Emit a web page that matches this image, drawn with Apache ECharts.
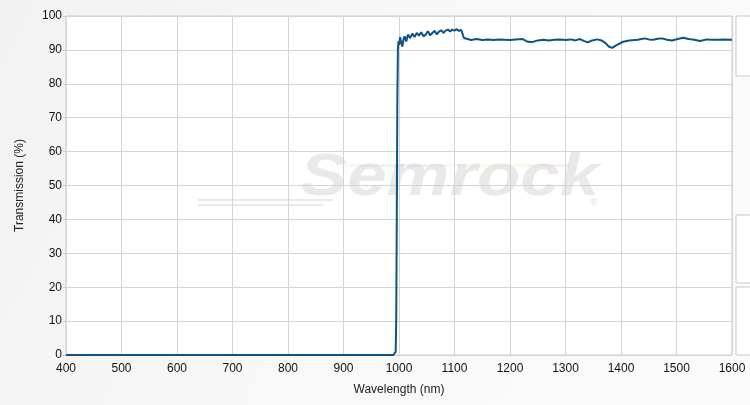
<!DOCTYPE html>
<html>
<head>
<meta charset="utf-8">
<script src="https://cdn.jsdelivr.net/npm/echarts@6/dist/echarts.min.js"></script>
<style>
html,body{margin:0;padding:0;background:#fff;}
#chart{width:750px;height:405px;}
</style>
</head>
<body>
<div id="chart"></div>
<script>
// Wavelength (nm)
var wavelengths = [400, 600, 800, 990, 993, 994, 995, 996, 997, 998, 999, 1000, 1002, 1004, 1006, 1008, 1010, 1013, 1016, 1020, 1024, 1028, 1032, 1036, 1040, 1044, 1048, 1052, 1056, 1060, 1064, 1068, 1072, 1076, 1080, 1084, 1088, 1092, 1096, 1100, 1104, 1108, 1112, 1115, 1117, 1120, 1130, 1140, 1150, 1160, 1170, 1180, 1190, 1200, 1210, 1223, 1232, 1240, 1250, 1260, 1270, 1280, 1290, 1300, 1310, 1318, 1326, 1334, 1340, 1348, 1357, 1365, 1372, 1378, 1384, 1392, 1404, 1415, 1430, 1443, 1450, 1458, 1466, 1474, 1483, 1492, 1502, 1512, 1522, 1532, 1542, 1555, 1565, 1575, 1585, 1600];
// Transmission (%)
var transmission = [0, 0, 0, 0, 0.2, 1, 10, 40, 75, 90, 92.5, 91.5, 93.8, 92, 91, 93, 94, 92.5, 94.5, 93.5, 94.8, 93.8, 95, 94.2, 95.2, 94, 94.5, 95.5, 94.3, 95, 95.6, 94.6, 95.4, 95.8, 95, 95.7, 96, 95.4, 96, 95.7, 96.1, 95.6, 95.9, 95.5, 93.5, 93.2, 92.9, 93.2, 92.9, 93.1, 92.9, 93.1, 93.0, 92.9, 93.1, 93.2, 92.4, 92.3, 92.8, 93.0, 92.8, 93.0, 93.1, 92.9, 93.1, 92.8, 93.2, 92.6, 92.2, 92.8, 93.1, 92.8, 92.0, 91.0, 90.6, 91.4, 92.4, 92.8, 93.0, 93.4, 93.1, 93.0, 93.3, 93.4, 93.0, 92.8, 93.2, 93.6, 93.2, 93.0, 92.6, 93.1, 93.0, 93.0, 93.1, 93.0];
var xTicks = [400, 500, 600, 700, 800, 900, 1000, 1100, 1200, 1300, 1400, 1500, 1600];
var yTicks = [0, 10, 20, 30, 40, 50, 60, 70, 80, 90, 100];

var data = wavelengths.map(function (w, i) { return [w, transmission[i]]; });

var chart = echarts.init(document.getElementById('chart'), null, {renderer: 'canvas'});
var labelFont = 'Liberation Sans, Arial, sans-serif';

chart.setOption({
  animation: false,
  backgroundColor: {
    type: 'linear', x: 0, y: 0, x2: 1, y2: 1,
    colorStops: [{offset: 0, color: '#f2f2f2'}, {offset: 0.5, color: '#f8f8f8'}, {offset: 1, color: '#fbfbfb'}]
  },
  grid: {left: 66, right: 18, top: 16, bottom: 50, show: true, backgroundColor: '#ffffff', borderColor: '#cccccc', borderWidth: 1},
  graphic: [
    {type: 'rect', z: 0, shape: {x: 736, y: 16, width: 20, height: 60}, style: {fill: '#ffffff', stroke: '#c8c8c8', lineWidth: 1}},
    {type: 'rect', z: 0, shape: {x: 736, y: 215, width: 20, height: 68}, style: {fill: '#ffffff', stroke: '#c8c8c8', lineWidth: 1}},
    {type: 'rect', z: 0, shape: {x: 736, y: 287, width: 20, height: 68}, style: {fill: '#ffffff', stroke: '#c8c8c8', lineWidth: 1}},
    {type: 'group', z: 1, silent: true, children: [
      {type: 'rect', shape: {x: 345, y: 164, width: 225, height: 3}, style: {fill: {
        type: 'linear', x: 0, y: 0, x2: 1, y2: 0,
        colorStops: [{offset: 0, color: 'rgba(200,200,255,0.12)'}, {offset: 0.3, color: 'rgba(190,220,255,0.35)'}, {offset: 0.55, color: 'rgba(220,255,200,0.35)'}, {offset: 0.75, color: 'rgba(255,240,190,0.35)'}, {offset: 1, color: 'rgba(255,190,190,0.3)'}]}}},
      {type: 'rect', shape: {x: 198, y: 199, width: 135, height: 2}, style: {fill: 'rgba(220,220,220,0.6)'}},
      {type: 'rect', shape: {x: 198, y: 204, width: 125, height: 2}, style: {fill: 'rgba(220,220,220,0.6)'}},
      {type: 'text', x: 300, y: 208, scaleX: 1.18, style: {text: 'Semrock', font: 'italic bold 60px "Liberation Sans", Arial, sans-serif', fill: 'rgba(200,200,200,0.4)', textVerticalAlign: 'bottom'}},
      {type: 'text', x: 590, y: 198, style: {text: '®', font: '10px "Liberation Sans", Arial, sans-serif', fill: 'rgba(200,200,200,0.5)'}}
    ]}
  ],
  xAxis: {
    type: 'value', min: 400, max: 1600, interval: 100,
    name: 'Wavelength (nm)', nameLocation: 'middle', nameGap: 29,
    nameTextStyle: {fontFamily: labelFont, fontSize: 12, color: '#222'},
    axisLine: {show: false},
    axisTick: {show: false},
    axisLabel: {fontFamily: labelFont, fontSize: 12, color: '#111', margin: 8, formatter: function (v) { return String(v); }},
    splitLine: {show: true, lineStyle: {color: '#d4d4d4', width: 1}}
  },
  yAxis: {
    type: 'value', min: 0, max: 100, interval: 10,
    name: 'Transmission (%)', nameLocation: 'middle', nameGap: 40, nameRotate: 90,
    nameTextStyle: {fontFamily: labelFont, fontSize: 12, color: '#222'},
    axisLine: {show: false},
    axisTick: {show: true, length: 3, inside: false, lineStyle: {color: '#c8c8c8'}},
    axisLabel: {fontFamily: labelFont, fontSize: 12, color: '#111', margin: 4, formatter: function (v) { return String(v); }},
    splitLine: {show: true, lineStyle: {color: '#d4d4d4', width: 1}}
  },
  series: [{
    type: 'line', data: data, showSymbol: false, smooth: false, z: 5,
    lineStyle: {color: '#0f5285', width: 2},
    itemStyle: {color: '#0f5285'}
  }]
});
</script>
</body>
</html>
